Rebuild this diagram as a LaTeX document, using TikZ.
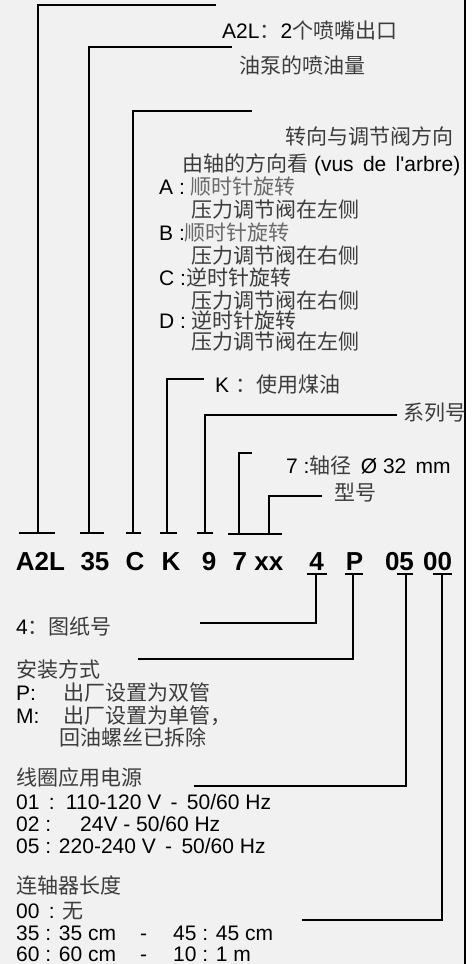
\documentclass[tikz,border=0pt]{standalone}
\usepackage{fontspec}
\setmainfont{Liberation Sans}
\newfontfamily\cjk{Noto Sans CJK SC}
\definecolor{bggray}{HTML}{F1F1F1}
\definecolor{zhgray}{HTML}{3C3C3C}
\definecolor{zhlight}{HTML}{6A6A6A}
\newcommand\zh[1]{{\cjk\color{zhgray}#1}}
\newcommand\zhl[1]{{\cjk\color{zhlight}#1}}
\tikzset{
	lead/.style={line width=2.4pt},
	txt/.style={anchor=west, inner sep=0pt, text height=19pt, text depth=3pt},
	code/.style={inner sep=0pt, font=\bfseries\fontsize{26}{30}\selectfont, text height=21pt, text depth=3pt}
}
\begin{document}
\begin{tikzpicture}[x=1pt, y=-1pt, font=\fontsize{21}{25}\selectfont, line join=miter]
	\useasboundingbox (0,0) rectangle (476,964);
	\fill[bggray] (0,0) rectangle (464,964);
	\draw[line width=2pt] (465,0)--(465,964);
	% labels above
	\node[txt] (lA2L) at (222,30) {A2L\zh{：}2\zh{个喷嘴出口}};
	\node[txt] (lPump) at (239,65) {\zh{油泵的喷油量}};
	\node[txt] (lDir) at (285,136) {\zh{转向与调节阀方向}};
	\node[txt] (lView) at (182,163) {\zh{由轴的方向看} (vus \,de \,l\textquotesingle arbre)};
	\node[txt] (lA) at (159,186) {A : \zhl{顺时针旋转}};
	\node[txt] (lA2) at (191,209) {\zh{压力调节阀在左侧}};
	\node[txt] (lB) at (159,232) {B :\zhl{顺时针旋转}};
	\node[txt] (lB2) at (191,255) {\zh{压力调节阀在右侧}};
	\node[txt] (lC) at (159,277) {C :\zh{逆时针旋转}};
	\node[txt] (lC2) at (191,300) {\zh{压力调节阀在右侧}};
	\node[txt] (lD) at (159,320) {D : \zh{逆时针旋转}};
	\node[txt] (lD2) at (191,341) {\zh{压力调节阀在左侧}};
	\node[txt] (lK) at (215,384) {K \zh{：}\zh{使用煤油}};
	\node[txt] (lSer) at (403,412) {\zh{系列号}};
	\node[txt] (lShaft) at (286,465) {7 :\zh{轴径} \,Ø 32 \,mm};
	\node[txt] (lType) at (334,492) {\zh{型号}};
	% code
	\node[code] (cA2L) at (40.5,561) {A2L};
	\node[code] (c35) at (95,561) {35};
	\node[code] (cC) at (135,561) {C};
	\node[code] (cK) at (171,561) {K};
	\node[code] (c9) at (209,561) {9};
	\node[code] (c7xx) at (258,561) {7 xx};
	\node[code] (c4) at (316.5,561) {4};
	\node[code] (cP) at (354.5,561) {P};
	\node[code] (c05) at (399.5,561) {05};
	\node[code] (c00) at (437.5,561) {00};
	% labels below
	\node[txt] (l4) at (16,626) {4\zh{：图纸号}};
	\node[txt] (lMount) at (16,669) {\zh{安装方式}};
	\node[txt] (lP) at (16,692) {\makebox[47pt][l]{P:}\zh{出厂设置为双管}};
	\node[txt] (lM) at (16,715) {\makebox[47pt][l]{M:}\zh{出厂设置为单管，}};
	\node[txt] (lM2) at (59,737) {\zh{回油螺丝已拆除}};
	\node[txt] (lCoil) at (16,777) {\zh{线圈应用电源}};
	\node[txt] (l01) at (16,801) {01 \,: \,110-120 V \,- \,50/60 Hz};
	\node[txt] (l02) at (16,823) {\makebox[64pt][l]{02 :}24V - 50/60 Hz};
	\node[txt] (l05) at (16,845) {05 : 220-240 V \,- \,50/60 Hz};
	\node[txt] (lCoup) at (16,885) {\zh{连轴器长度}};
	\node[txt] (l00) at (16,910) {00 \,: \zh{无}};
	\node[txt] (l35) at (16,932) {\makebox[124pt][l]{35 : 35 cm}\makebox[33pt][l]{-}45 : 45 cm};
	\node[txt] (l60) at (16,953) {\makebox[124pt][l]{60 : 60 cm}\makebox[33pt][l]{-}10 : 1 m};
	% ticks
	\foreach \k/\x/\l/\r in {A2L/38/19/55, 35/89/80/104, C/133/126/141, K/167/160/177, 9/205/197/213}
	{\coordinate (k\k) at (\x,533);
		\draw[lead] (\l,533)--(\r,533);}
	\coordinate (k7) at (239,534);
	\coordinate (kxx) at (269,534);
	\draw[lead] (228,534)--(282,534);
	\foreach \k/\x/\l/\r in {4/316/307/327, P/353/345/363, 05/406/397/413, 00/442/433/452}
	{\coordinate (k\k) at (\x,574);
		\draw[lead] (\l,574)--(\r,574);}
	% ends
	\coordinate (eA2L) at (216,5);
	\coordinate (e35) at (232,47);
	\coordinate (eC) at (252,111);
	\coordinate (eK) at (204,379);
	\coordinate (e9) at (397,415);
	\coordinate (e7) at (252,453);
	\coordinate (exx) at (322,496);
	\coordinate (e4) at (200,623);
	\coordinate (eP) at (138,659);
	\coordinate (e05) at (194,786);
	\coordinate (e00) at (302,920);
	\foreach \k in {A2L,35,C,K,9,7,xx,4,P,05,00}
	{\draw[lead] (k\k) |- (e\k);}
\end{tikzpicture}
\end{document}
